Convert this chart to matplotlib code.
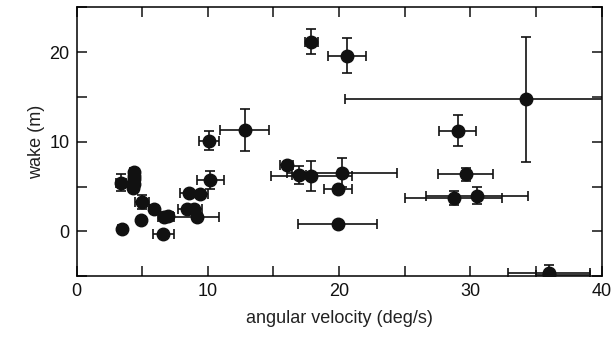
import matplotlib.pyplot as plt
from matplotlib.ticker import MultipleLocator

# angular velocity (deg/s) vs wake (m)
ang_vel = [3.4, 3.45, 4.35, 4.35, 4.35, 4.4, 4.3, 5.0, 4.95, 5.9,
           6.7, 6.95, 6.6, 8.4, 8.6, 8.95, 9.15, 9.4, 10.1, 10.2,
           12.8, 16.0, 16.95, 17.9, 17.9, 20.6, 19.9, 20.25, 19.9, 34.25,
           29.05, 29.65, 28.75, 30.5, 36.0, 36.0]
wake = [5.45, 0.25, 6.6, 6.2, 5.8, 5.3, 4.85, 3.28, 1.25, 2.45,
        1.65, 1.7, -0.35, 2.45, 4.25, 2.45, 1.6, 4.2, 10.1, 5.7,
        11.3, 7.45, 6.3, 21.2, 6.15, 19.6, 4.7, 6.55, 0.85, 14.75,
        11.25, 6.35, 3.7, 4.0, -4.7, -4.85]
xerr_lo = [0.4, 0.3, 0.3, 0.3, 0.3, 0.3, 0.3, 0.55, 0.3, 0.3,
           0.5, 0.4, 0.8, 0.7, 0.7, 0.6, 1.7, 0.6, 0.75, 1.0,
           1.85, 0.5, 0.5, 0.5, 3.05, 1.45, 1.05, 4.2, 3.0, 13.8,
           1.4, 2.1, 3.7, 3.9, 3.1, 1.0]
xerr_hi = [0.4, 0.3, 0.3, 0.3, 0.3, 0.3, 0.3, 0.55, 0.3, 0.3,
           0.5, 0.4, 0.8, 0.7, 0.7, 0.6, 1.7, 0.6, 0.75, 1.0,
           1.85, 0.5, 0.5, 0.5, 3.05, 1.45, 1.05, 4.2, 3.0, 13.8,
           1.4, 2.1, 3.7, 3.9, 3.1, 3.1]
yerr = [0.95, 0.3, 0.3, 0.3, 0.3, 0.3, 0.3, 0.75, 0.3, 0.3,
        0.3, 0.3, 0.3, 0.2, 0.3, 0.2, 0.3, 0.3, 1.05, 1.0,
        2.35, 0.3, 1.0, 1.45, 1.65, 1.95, 0.3, 1.6, 0.2, 7.0,
        1.75, 0.75, 0.8, 0.9, 0.9, 0.3]

plt.rcParams['font.family'] = ['Liberation Sans', 'DejaVu Sans']

fig = plt.figure(figsize=(6.12, 3.4), dpi=100)
ax = fig.add_axes([0.125, 0.188, 0.858, 0.79])

ax.errorbar(ang_vel, wake, xerr=[xerr_lo, xerr_hi], yerr=yerr,
            fmt='o', color='#111111', ms=9, elinewidth=1.2, capsize=3.3,
            capthick=1.2, zorder=3)

ax.set_xlim(0, 40)
ax.set_ylim(-5, 25)
ax.xaxis.set_major_locator(MultipleLocator(10))
ax.xaxis.set_minor_locator(MultipleLocator(5))
ax.yaxis.set_major_locator(MultipleLocator(10))
ax.yaxis.set_minor_locator(MultipleLocator(5))
ax.tick_params(which='both', direction='in', top=True, right=True,
               length=7, width=1.1, labelsize=13, colors='#111111', pad=5)
for s in ax.spines.values():
    s.set_linewidth(1.1)

ax.set_xlabel('angular velocity (deg/s)', fontsize=13, color='#222222', labelpad=7)
ax.set_ylabel('wake (m)', fontsize=13, color='#222222', labelpad=3)

fig.savefig('out.png', dpi=100)
